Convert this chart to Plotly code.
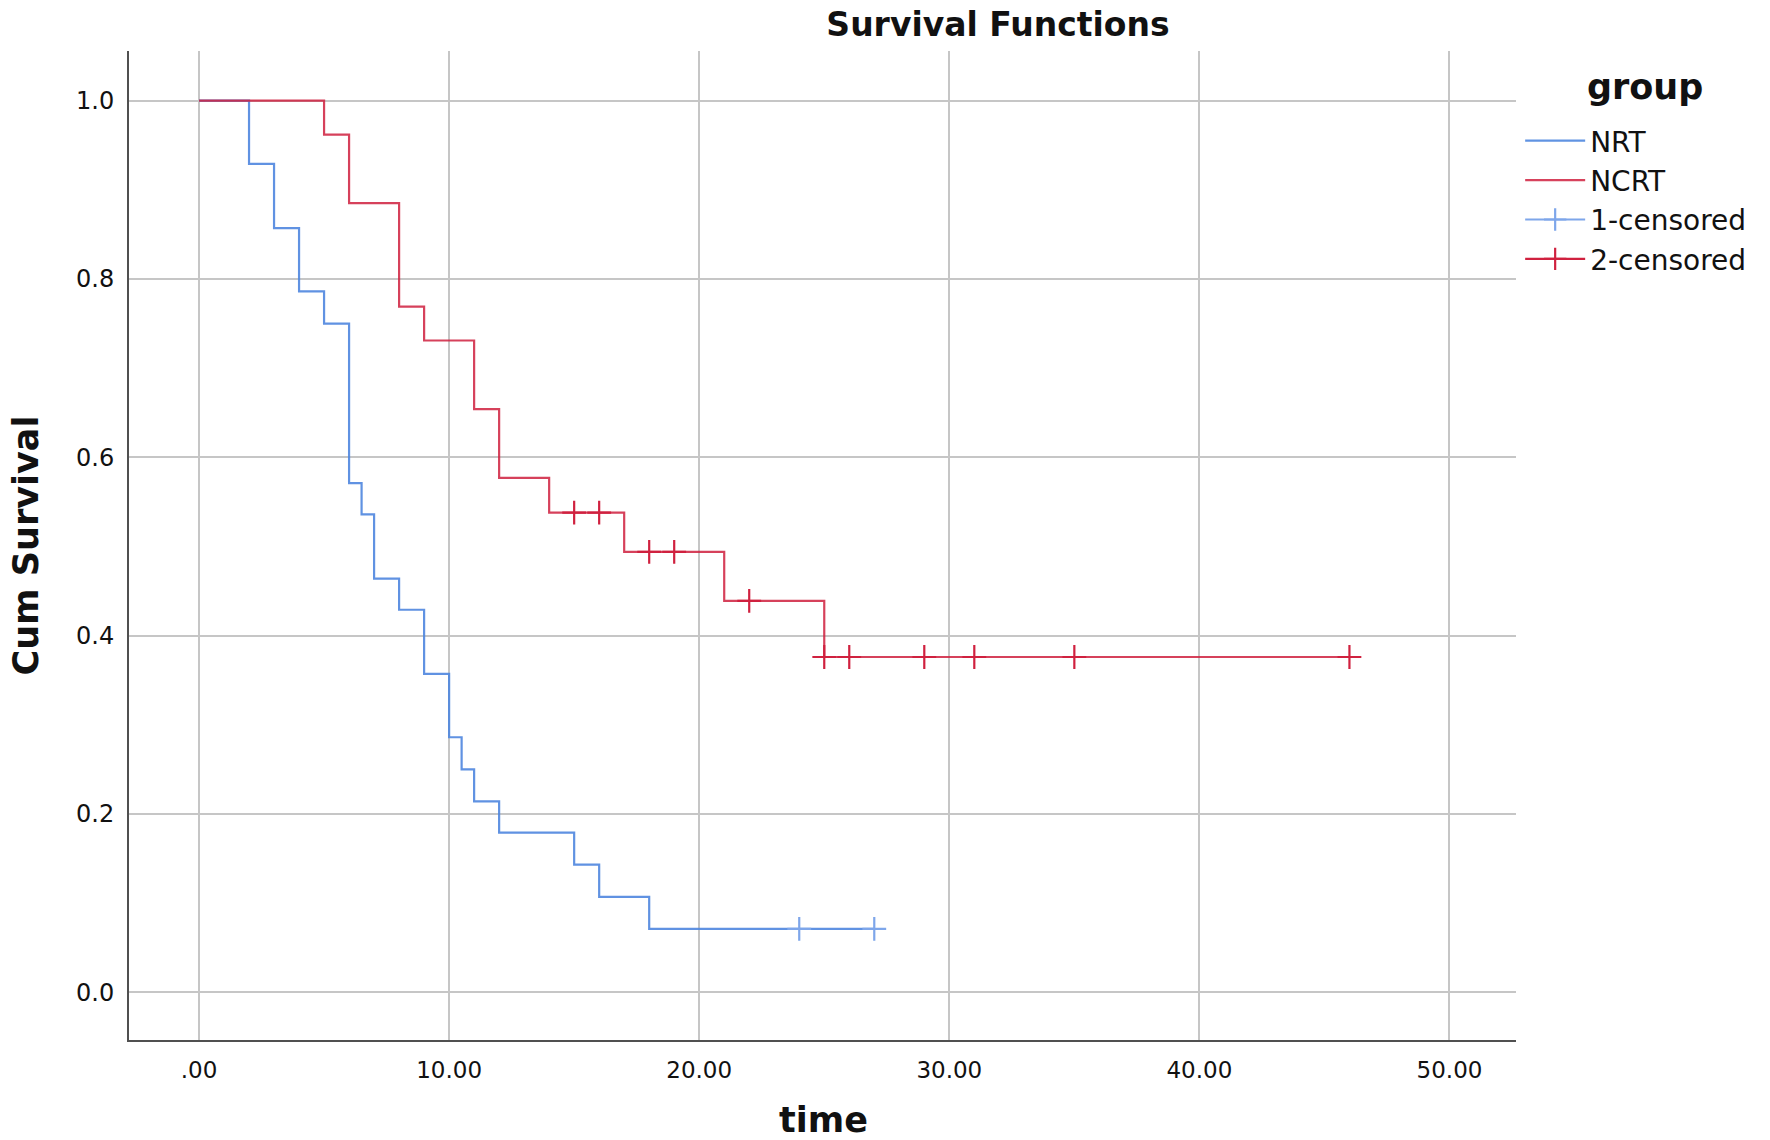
import plotly.graph_objects as go

# ---- data ----
nrt_time = [0, 2, 3, 4, 5, 6, 6.5, 7, 8, 9, 10, 10.5, 11, 12, 15, 16, 18, 27]
nrt_surv = [1.0, 0.929, 0.857, 0.786, 0.750, 0.571, 0.536, 0.464, 0.429, 0.357,
            0.286, 0.250, 0.214, 0.179, 0.143, 0.107, 0.071, 0.071]
nrt_cens_time = [24, 27]
nrt_cens_surv = [0.071, 0.071]

ncrt_time = [0, 5, 6, 8, 9, 11, 12, 14, 17, 21, 25, 46]
ncrt_surv = [1.0, 0.962, 0.885, 0.769, 0.731, 0.654, 0.577, 0.538, 0.494, 0.439, 0.376, 0.376]
ncrt_cens_time = [15, 16, 18, 19, 22, 25, 26, 29, 31, 35, 46]
ncrt_cens_surv = [0.538, 0.538, 0.494, 0.494, 0.439, 0.376, 0.376, 0.376, 0.376, 0.376, 0.376]

x_tickvals = [0, 10, 20, 30, 40, 50]
x_ticktext = [".00", "10.00", "20.00", "30.00", "40.00", "50.00"]
y_tickvals = [0.0, 0.2, 0.4, 0.6, 0.8, 1.0]
y_ticktext = ["0.0", "0.2", "0.4", "0.6", "0.8", "1.0"]

BLUE = "#4f87df"
BLUE_LIGHT = "#7ea6ea"
RED = "#d0213f"
FONT = "DejaVu Sans"

# plot area (figure pixels)
L, R, T, B = 121, 262, 43, 108
PW, PH = 1770 - L - R, 1140 - T - B


def gapped(xs, ys):
    gx, gy = [], []
    for a, b in zip(xs, ys):
        gx += [a, None]
        gy += [b, None]
    return gx[:-1], gy[:-1]


fig = go.Figure()
fig.add_trace(go.Scatter(x=nrt_time, y=nrt_surv, mode="lines", name="NRT",
                         line=dict(color=BLUE, width=2.2, shape="hv"), opacity=0.9))
fig.add_trace(go.Scatter(x=ncrt_time, y=ncrt_surv, mode="lines", name="NCRT",
                         line=dict(color=RED, width=2.2, shape="hv"), opacity=0.85))
cx, cy = gapped(nrt_cens_time, nrt_cens_surv)
fig.add_trace(go.Scatter(x=cx, y=cy, mode="lines+markers", name="1-censored",
                         line=dict(color=BLUE_LIGHT, width=2.2),
                         marker=dict(symbol="cross-thin", size=17,
                                     line=dict(color=BLUE_LIGHT, width=2.2))))
cx, cy = gapped(ncrt_cens_time, ncrt_cens_surv)
fig.add_trace(go.Scatter(x=cx, y=cy, mode="lines+markers", name="2-censored",
                         line=dict(color=RED, width=2.2),
                         marker=dict(symbol="cross-thin", size=17,
                                     line=dict(color=RED, width=2.2))))

fig.update_layout(
    width=1770, height=1140,
    margin=dict(l=L, r=R, t=T, b=B, autoexpand=False),
    paper_bgcolor="white", plot_bgcolor="white",
    font=dict(family=FONT, color="#111111"),
    title=dict(text="<b>Survival Functions</b>", x=(990 - L) / PW, xref="paper",
               xanchor="center", y=1 - 16 / 1140, yref="container", yanchor="middle",
               font=dict(size=33, family=FONT, color="#111111")),
    legend=dict(x=1.003, xanchor="left", y=(1140 - B - 108) / PH, yanchor="top",
                font=dict(size=28, family=FONT, color="#111111"),
                itemwidth=60,
                bgcolor="rgba(0,0,0,0)", tracegroupgap=0),
    showlegend=True,
)

fig.update_xaxes(range=[-2.8, 52.66], tickvals=x_tickvals, ticktext=x_ticktext,
                 showgrid=True, gridcolor="#c6c6c6", gridwidth=2.2, zeroline=False,
                 showline=True, linecolor="#505050", linewidth=2,
                 ticks="outside", ticklen=8, tickcolor="rgba(0,0,0,0)",
                 tickfont=dict(size=23, family=FONT, color="#111111"))
fig.update_yaxes(range=[-0.0536, 1.0557], tickvals=y_tickvals, ticktext=y_ticktext,
                 showgrid=True, gridcolor="#c6c6c6", gridwidth=2.2, zeroline=False,
                 showline=True, linecolor="#505050", linewidth=2,
                 ticks="outside", ticklen=8, tickcolor="rgba(0,0,0,0)",
                 tickfont=dict(size=24, family=FONT, color="#111111"))

fig.add_annotation(text="<b>group</b>", x=(1637 - L) / PW, xref="paper",
                   y=(1140 - B - 79) / PH, yref="paper", showarrow=False,
                   xanchor="center", yanchor="middle",
                   font=dict(size=35, family=FONT, color="#111111"))
fig.add_annotation(text="<b>time</b>", x=(815 - L) / PW, xref="paper",
                   y=(1140 - B - 1112) / PH,
                   yref="paper", showarrow=False, xanchor="center", yanchor="middle",
                   font=dict(size=35, family=FONT, color="#111111"))
fig.add_annotation(text="<b>Cum Survival</b>", x=(17 - L) / PW, xref="paper",
                   y=0.5, yref="paper", showarrow=False, textangle=-90,
                   xanchor="center", yanchor="middle",
                   font=dict(size=35, family=FONT, color="#111111"))

fig.write_html("out.html")
